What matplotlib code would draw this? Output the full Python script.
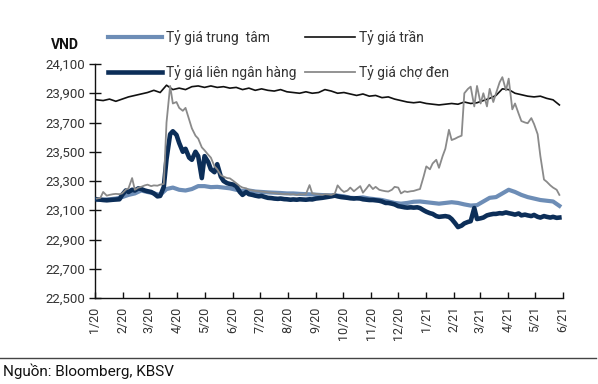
import matplotlib
matplotlib.use('Agg')
import matplotlib.pyplot as plt
from matplotlib.lines import Line2D
from matplotlib.ticker import FuncFormatter
import pandas as pd

FONT = ['Liberation Sans Narrow', 'Roboto', 'DejaVu Sans']
plt.rcParams['font.family'] = FONT

# ---------------- data ----------------
# weekly (Fridays) series
dates_w = pd.date_range('2020-01-03', '2021-05-28', freq='W-FRI')
# twice-weekly (Tuesdays and Fridays) series
dates_2w = pd.date_range('2020-01-03', '2021-05-28', freq='W-FRI').union(
    pd.date_range('2020-01-03', '2021-05-28', freq='W-TUE'))

ty_gia_tran = [
    23855, 23850, 23860, 23845, 23860,          # Jan 20
    23875, 23885, 23895, 23905,                 # Feb
    23920, 23905, 23955, 23925,                 # Mar
    23935, 23925, 23945, 23950,                 # Apr
    23940, 23950, 23940, 23945, 23935,          # May
    23940, 23925, 23935, 23920,                 # Jun
    23930, 23920, 23915, 23925, 23910,          # Jul
    23905, 23900, 23910, 23900,                 # Aug
    23905, 23925, 23915, 23900,                 # Sep
    23905, 23895, 23885, 23895, 23880,          # Oct
    23885, 23870, 23875, 23860,                 # Nov
    23850, 23840, 23835, 23840,                 # Dec
    23830, 23825, 23820, 23825, 23830,          # Jan 21
    23825, 23840, 23830, 23835,                 # Feb
    23850, 23865, 23885, 23930,                 # Mar
    23925, 23900, 23890, 23880, 23875,          # Apr
    23880, 23865, 23855, 23820,                 # May
]

ty_gia_trung_tam = [
    23170, 23172, 23175, 23180, 23190,
    23205, 23215, 23235, 23225,
    23215, 23205, 23245, 23255,
    23240, 23235, 23245, 23265,
    23265, 23258, 23260, 23255, 23250,
    23240, 23232, 23235, 23228,
    23225, 23222, 23220, 23218, 23215,
    23215, 23212, 23210, 23208,
    23205, 23203, 23202, 23200,
    23195, 23185, 23183, 23188, 23180,
    23175, 23170, 23160, 23150,
    23145, 23150, 23158, 23160,
    23155, 23150, 23145, 23150, 23155,
    23150, 23140, 23132, 23135,
    23160, 23185, 23190, 23215,
    23240, 23225, 23205, 23190, 23180,
    23170, 23165, 23160, 23130,
]

ty_gia_lien_ngan_hang = [
    23175, 23172, 23170, 23168, 23170, 23172, 23173, 23175, 23205,          # Jan 20
    23235, 23225, 23240, 23235, 23250, 23245, 23235, 23230,                 # Feb
    23225, 23215, 23195, 23198, 23260, 23450, 23620, 23640, 23615,          # Mar
    23560, 23500, 23520, 23460, 23445, 23500, 23470, 23320,                 # Apr
    23470, 23430, 23380, 23360, 23415, 23330, 23300, 23285, 23280,          # May
    23275, 23265, 23225, 23205, 23225, 23210, 23205, 23200, 23195,          # Jun
    23198, 23190, 23185, 23183, 23180, 23178, 23180, 23176, 23175,          # Jul
    23172, 23174, 23172, 23175, 23173, 23172, 23175, 23174,                 # Aug
    23180, 23182, 23185, 23188, 23192, 23195, 23200, 23195, 23190,          # Sep
    23188, 23185, 23182, 23180, 23182, 23180, 23175, 23172, 23170,          # Oct
    23170, 23168, 23165, 23160, 23150, 23150, 23145, 23140,                 # Nov
    23128, 23125, 23120, 23118, 23120, 23118, 23120, 23115, 23100,          # Dec
    23090, 23080, 23075, 23060, 23055, 23058, 23060, 23055, 23040,          # Jan 21
    23010, 22985, 22995, 23010, 23020, 23025, 23115, 23040,                 # Feb
    23045, 23050, 23065, 23070, 23075, 23075, 23080, 23078, 23085,          # Mar
    23080, 23075, 23070, 23078, 23065, 23070, 23065, 23060, 23068,          # Apr
    23055, 23050, 23060, 23055, 23050, 23055, 23048, 23050,                 # May
]

ty_gia_cho_den = [
    23180, 23185, 23225, 23200, 23205, 23210, 23212, 23210, 23215,          # Jan 20
    23240, 23250, 23320, 23240, 23255, 23260, 23270, 23275,                 # Feb
    23265, 23270, 23268, 23275, 23280, 23700, 23950, 23830, 23840,          # Mar
    23800, 23780, 23800, 23720, 23660, 23610, 23590, 23530,                 # Apr
    23510, 23480, 23460, 23400, 23380, 23340, 23330, 23320, 23318,          # May
    23300, 23285, 23265, 23255, 23250, 23240, 23235, 23232, 23230,          # Jun
    23228, 23225, 23222, 23220, 23218, 23215, 23212, 23210, 23212,          # Jul
    23208, 23210, 23205, 23210, 23208, 23210, 23272, 23215,                 # Aug
    23212, 23210, 23205, 23210, 23208, 23205, 23215, 23270, 23240,          # Sep
    23225, 23235, 23255, 23230, 23245, 23265, 23220, 23250, 23275,          # Oct
    23245, 23260, 23240, 23235, 23230, 23228, 23240, 23260,                 # Nov
    23255, 23215, 23230, 23225, 23230, 23232, 23240, 23245, 23330,          # Dec
    23400, 23380, 23420, 23445, 23390, 23470, 23520, 23650, 23580,          # Jan 21
    23590, 23600, 23610, 23900, 23930, 23945, 23810, 23950,                 # Feb
    23830, 23900, 23810, 23930, 23840, 23900, 23975, 24010, 23920,          # Mar
    24000, 23790, 23830, 23760, 23710, 23700, 23695, 23730, 23690,          # Apr
    23620, 23470, 23310, 23295, 23270, 23255, 23240, 23205,                 # May
]

labels = ['Tỷ giá trung  tâm', 'Tỷ giá trần', 'Tỷ giá liên ngân hàng', 'Tỷ giá chợ đen']
month_ticks = pd.date_range('2020-01-01', '2021-06-01', freq='MS')
month_labels = [f'{d.month}/{d.year % 100}' for d in month_ticks]
y_ticks = list(range(22500, 24101, 200))

# ---------------- style ----------------
c_tt = '#6d8db6'
c_tran = '#111111'
c_lnh = '#0c2e58'
c_cd = '#8a8a8a'
txt = '#333333'

fig = plt.figure(figsize=(5.98, 3.84), dpi=100)
ax = fig.add_axes([95 / 598, 86 / 384, 468 / 598, 234 / 384])

ax.plot(dates_w, ty_gia_trung_tam, color=c_tt, lw=3.0, zorder=2)
ax.plot(dates_2w, ty_gia_lien_ngan_hang, color=c_lnh, lw=3.3, zorder=3)
ax.plot(dates_w, ty_gia_tran, color=c_tran, lw=1.2, zorder=4)
ax.plot(dates_2w, ty_gia_cho_den, color=c_cd, lw=1.3, zorder=5)

ax.set_xlim(pd.Timestamp('2020-01-01'), pd.Timestamp('2021-06-01'))
ax.set_ylim(22500, 24100)
ax.set_yticks(y_ticks)
ax.yaxis.set_major_formatter(FuncFormatter(lambda v, p: f'{int(v):,}'))
ax.set_xticks(month_ticks)
ax.set_xticklabels(month_labels, rotation=90)

for s in ['top', 'right']:
    ax.spines[s].set_visible(False)
for s in ['left', 'bottom']:
    ax.spines[s].set_color('#111111')
    ax.spines[s].set_linewidth(1.0)

ax.tick_params(axis='y', direction='inout', length=8, width=1, pad=3,
               labelsize=9.5, labelcolor=txt, color='#111111')
ax.tick_params(axis='x', direction='in', length=4, width=1, pad=6,
               labelsize=9, labelcolor=txt, color='#111111')

# legends (two columns)
h_tt = Line2D([], [], color=c_tt, lw=3.0)
h_tran = Line2D([], [], color=c_tran, lw=1.2)
h_lnh = Line2D([], [], color=c_lnh, lw=3.3)
h_cd = Line2D([], [], color=c_cd, lw=1.3)

common = dict(loc='upper left', frameon=False, fontsize=10, borderpad=0,
              borderaxespad=0, handletextpad=0.3, labelspacing=1.45,
              labelcolor=txt)
leg1 = fig.legend([h_tt, h_lnh], [labels[0], labels[2]],
                  bbox_to_anchor=(108 / 598, 1 - 30 / 384), handlelength=3.9, **common)
leg2 = fig.legend([h_tran, h_cd], [labels[1], labels[3]],
                  bbox_to_anchor=(305 / 598, 1 - 30 / 384), handlelength=3.6, **common)

fig.text(65 / 598, 1 - 45 / 384, 'VND', ha='center', va='center',
         fontsize=10, color='#111111', fontweight='bold')

fig.add_artist(Line2D([0, 596 / 598], [1 - 358 / 384, 1 - 358 / 384],
                      transform=fig.transFigure, color='#444444', lw=1.0))
fig.text(3 / 598, 1 - 371 / 384, 'Nguồn: Bloomberg, KBSV', ha='left', va='center',
         fontsize=11, color='#111111')

fig.savefig('out.png', dpi=100)
